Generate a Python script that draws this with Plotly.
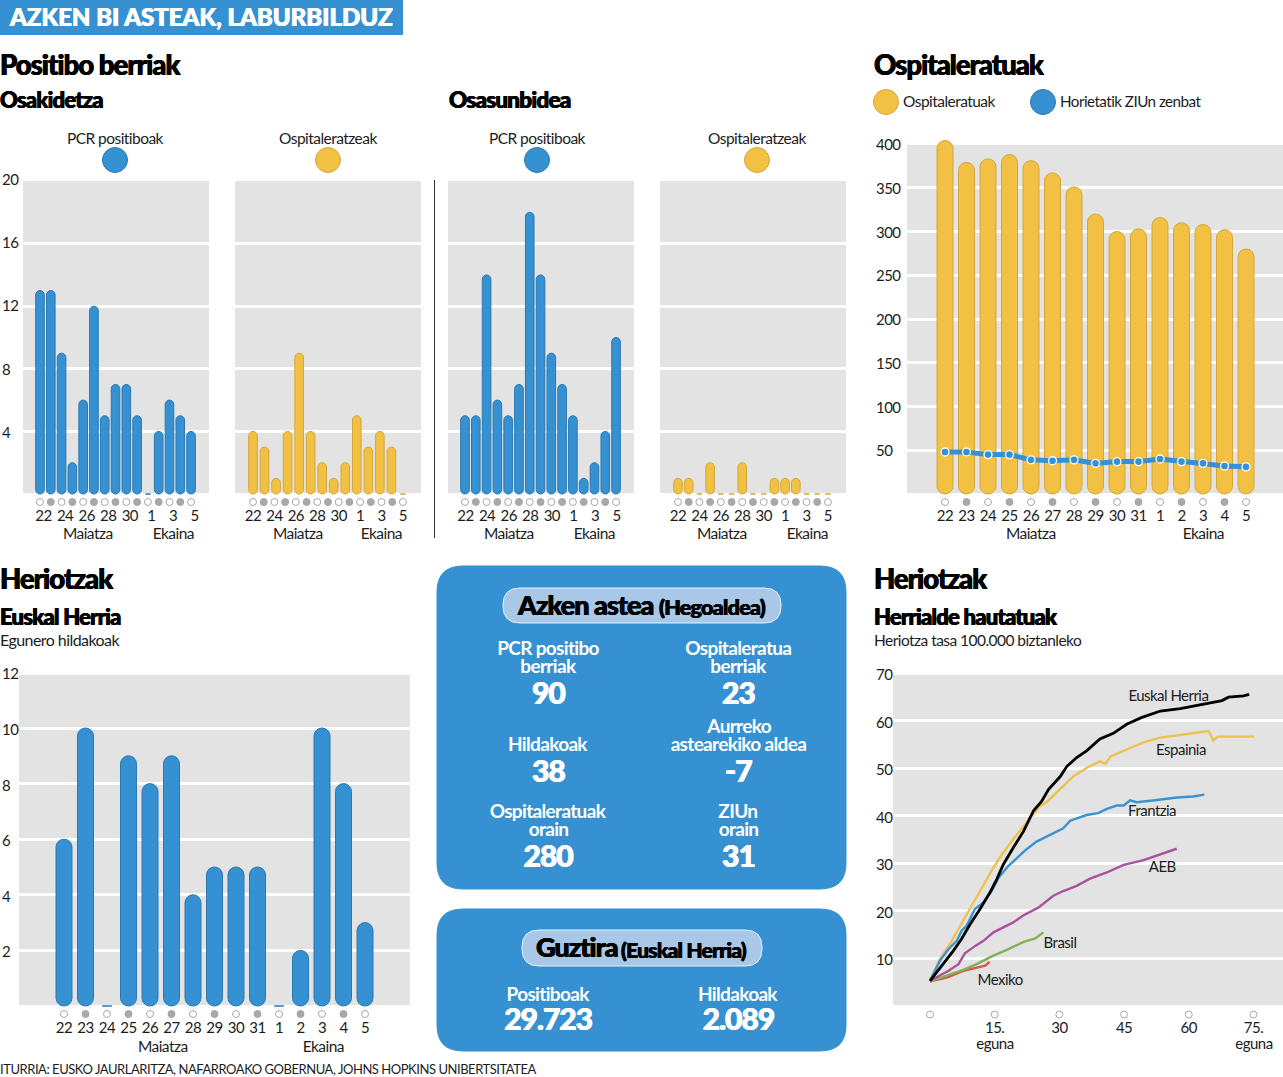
import plotly.graph_objects as go

W, H = 1283, 1077
BLUE = "#3591d1"
BLUE_EDGE = "#2b78b0"
YELLOW = "#f2c043"
YELLOW_EDGE = "#d3a63c"
GRAY = "#e3e3e3"
DOT = "#a8a8a8"
INK = "#1c1c1c"
FONT = "Lato"

egunak = ["22", "23", "24", "25", "26", "27", "28", "29", "30", "31", "1", "2", "3", "4", "5"]

# Positibo berriak
osa_pcr = [13, 13, 9, 2, 6, 12, 5, 7, 7, 5, 0, 4, 6, 5, 4]
osa_ospit = [4, 3, 1, 4, 9, 4, 2, 1, 2, 5, 3, 4, 3, 0]
nafar_pcr = [5, 5, 14, 6, 5, 7, 18, 14, 9, 7, 5, 1, 2, 4, 10]
nafar_ospit = [1, 1, 0, 2, 0, 0, 2, 0, 0, 1, 1, 1, 0, 0, 0]
positibo_ticks = [4, 8, 12, 16, 20]

# Ospitaleratuak
ospitaleratuak = [404, 379, 383, 388, 381, 367, 351, 320, 300, 303, 316, 310, 308, 302, 280]
ziu = [48, 48, 45, 45, 39, 38, 39, 35, 37, 37, 40, 37, 35, 32, 31]
ospit_ticks = [50, 100, 150, 200, 250, 300, 350, 400]

# Heriotzak
hildakoak = [6, 10, 0, 9, 8, 9, 4, 5, 5, 5, 0, 2, 10, 8, 3]
hildako_ticks = [2, 4, 6, 8, 10, 12]

# Herrialde hautatuak
eh_x = [0, 3.1, 5.4, 7.3, 9.3, 11.6, 13.9, 15.5, 17, 19.3, 21.7, 24, 25.9, 27.5, 30.2, 31.7, 34, 36.3, 39.4, 42.5, 45.6, 49, 53.4, 58, 61.9, 67.7, 69.2, 72.7, 74]
eh_y = [5.2, 8.7, 11.5, 14, 17.1, 20.3, 23.8, 26.6, 29.7, 33.2, 36.7, 41, 43, 45.5, 48.2, 50.3, 52.2, 53.6, 56.1, 57.3, 59.2, 60.6, 62, 62.5, 63.2, 64.2, 64.9, 65.2, 65.5]
es_x = [0, 2.3, 4.6, 7, 9.3, 11.6, 14.7, 17, 19.3, 22.4, 25.5, 27, 30.2, 33.3, 36.3, 39.4, 40.7, 41.8, 45.6, 49.5, 53.4, 57.2, 61, 64.6, 65.7, 66.7, 70.4, 75.2]
es_y = [5.2, 9.8, 12.9, 16.8, 20.6, 24.1, 29, 32.2, 35, 38.5, 42, 42.8, 45.5, 48.3, 50, 51.4, 50.9, 52.4, 53.9, 55.4, 56.4, 56.9, 57.4, 57.8, 55.8, 56.6, 56.6, 56.6]
fr_x = [0, 2.3, 4.3, 6.2, 7.3, 8.5, 10.4, 12.4, 14.3, 15.9, 18.2, 20.1, 22.4, 24.7, 27.4, 30.9, 32.5, 36.3, 39, 41, 43.3, 44.9, 46.4, 47.9, 52.2, 57.2, 61, 63.6]
fr_y = [5.2, 9.4, 11.9, 13.6, 15.7, 16.8, 20.3, 21.7, 24.1, 26.9, 29.4, 30.9, 32.9, 34.5, 35.7, 37.3, 38.9, 40.1, 40.5, 41.4, 42.1, 42.1, 43.2, 42.8, 43.2, 43.8, 44, 44.4]
aeb_x = [0, 4.3, 6.6, 8.1, 10.4, 12.4, 14.7, 17, 19.3, 21.7, 25.1, 28.6, 30.9, 34, 37.1, 41, 44.9, 49.5, 52.6, 57.2]
aeb_y = [5.2, 7.3, 8.7, 11, 12.5, 13.6, 15.4, 16.4, 17.5, 19, 20.6, 23.1, 24.1, 25.2, 26.7, 28, 29.6, 30.6, 31.6, 33]
br_x = [0, 3.9, 7.7, 10.8, 14.7, 17.8, 21.7, 24.4, 26.3]
br_y = [5.1, 6.3, 7.5, 8.7, 10.5, 11.7, 13.4, 14.1, 15.4]
mx_x = [0, 3.9, 7.7, 11.2, 12.8, 13.8]
mx_y = [5.1, 5.9, 7.3, 8, 8.4, 9.2]
tasa_ticks = [10, 20, 30, 40, 50, 60, 70]
tasa_x_ticks = [0, 15, 30, 45, 60, 75]
tasa_x_labels = ["", "15.", "30", "45", "60", "75."]

fig = go.Figure()
annots = []
shapes = []
layout = {}


def text(x, y, s, size=15, weight=400, color=INK, anchor="left"):
    font = dict(family=FONT, size=size, weight=weight, color=color)
    if weight == 900:
        # Lato Black comes out too thin, thicken it a little
        font["shadow"] = f"0.45px 0 0 {color}, -0.45px 0 0 {color}"
    annots.append(dict(x=x / W, y=1 - (y - 1) / H, xref="paper", yref="paper", text=s, showarrow=False,
                       xanchor=anchor, align=anchor, yanchor="middle", borderpad=0, borderwidth=0, font=font))


def panel(n, box, first, step, zero, ppu, yticks, xticks, xlabels):
    # plot area is larger than the gray box so the dots and round ends stay in range
    x0, y0, x1, y1 = box
    top, bottom = y0 - 10, y1 + 12
    shapes.append(dict(type="rect", xref="paper", yref="paper", x0=x0 / W, x1=x1 / W, y0=1 - y1 / H, y1=1 - y0 / H,
                       fillcolor=GRAY, line=dict(width=0), layer="below"))
    layout[f"xaxis{n}"] = dict(domain=[x0 / W, x1 / W], range=[(x0 - first) / step, (x1 - first) / step],
                               anchor=f"y{n}", tickvals=xticks, ticktext=xlabels, showgrid=False,
                               zeroline=False, showline=False, ticks="", ticklabelstandoff=0,
                               tickfont=dict(family=FONT, size=15, color=INK))
    layout[f"yaxis{n}"] = dict(domain=[1 - bottom / H, 1 - top / H], range=[(zero - bottom) / ppu, (zero - top) / ppu],
                               anchor=f"x{n}", tickvals=yticks, showticklabels=False, showgrid=True,
                               gridcolor="white", gridwidth=2.5, zeroline=False, showline=False, ticks="")


def dots(n, xs, y, all_open=False):
    cols = ["white" if (i % 2 == 0 or all_open) else DOT for i in range(len(xs))]
    fig.add_trace(go.Scatter(x=xs, y=[y] * len(xs), xaxis=f"x{n}", yaxis=f"y{n}", mode="markers", cliponaxis=False,
                             marker=dict(size=7, color=cols, line=dict(color=DOT, width=1)),
                             showlegend=False, hoverinfo="skip"))


def round_bars(n, vals, color, edge, wdata, radius, bar_step=1.0):
    # a bar with a base gets all four corners rounded
    xs = [i * bar_step for i in range(len(vals)) if vals[i] > 0]
    vv = [v for v in vals if v > 0]
    common = dict(xaxis=f"x{n}", yaxis=f"y{n}", showlegend=False, hoverinfo="skip")
    fig.add_trace(go.Bar(x=xs, y=vv, base=[0] * len(vv), width=wdata,
                         marker=dict(color=color, line=dict(color=edge, width=1), cornerradius=radius), **common))
    zx = [i * bar_step for i in range(len(vals)) if vals[i] == 0]
    fig.add_trace(go.Bar(x=zx, y=[0] * len(zx), width=wdata * 0.6,
                         marker=dict(color=edge, line=dict(color=edge, width=1)), **common))


def circle(x, y, r, color, edge):
    shapes.append(dict(type="circle", xref="paper", yref="paper", x0=(x - r) / W, x1=(x + r) / W,
                       y0=1 - (y + r) / H, y1=1 - (y - r) / H, fillcolor=color, line=dict(color=edge, width=1)))


def card(x0, y0, x1, y1, r, fill, edge=None):
    fx = lambda v: v / W
    fy = lambda v: 1 - v / H
    path = (f"M {fx(x0 + r)} {fy(y0)} L {fx(x1 - r)} {fy(y0)} Q {fx(x1)} {fy(y0)} {fx(x1)} {fy(y0 + r)} "
            f"L {fx(x1)} {fy(y1 - r)} Q {fx(x1)} {fy(y1)} {fx(x1 - r)} {fy(y1)} "
            f"L {fx(x0 + r)} {fy(y1)} Q {fx(x0)} {fy(y1)} {fx(x0)} {fy(y1 - r)} "
            f"L {fx(x0)} {fy(y0 + r)} Q {fx(x0)} {fy(y0)} {fx(x0 + r)} {fy(y0)} Z")
    shapes.append(dict(type="path", xref="paper", yref="paper", path=path, fillcolor=fill, layer="below",
                       line=dict(color=edge or fill, width=1)))


def ylabels(n, ticks, x, drift=0, nudge=0):
    # the printed numbers do not sit exactly on the gridlines in the original
    for t in ticks:
        annots.append(dict(x=x / W, y=t, xref="paper", yref=f"y{n}", text=str(t), showarrow=False,
                           xanchor="left", align="left", yanchor="middle", yshift=(t - 8) * drift + nudge,
                           font=dict(family=FONT, size=15, color=INK)))


# four small panels
days = list(range(len(egunak)))
even = days[::2]
even_labels = egunak[::2]
small = [
    (1, (23, 181, 209, 493), 40, 10.79, osa_pcr, BLUE, BLUE_EDGE, 1.0, 3.5),
    (2, (235, 181, 421, 493), 253, 10.71, osa_ospit, YELLOW, YELLOW_EDGE, 14 / 13, 0),
    (3, (448, 181, 634, 493), 465, 10.79, nafar_pcr, BLUE, BLUE_EDGE, 1.0, 0.5),
    (4, (660, 181, 846, 493), 678, 10.71, nafar_ospit, YELLOW, YELLOW_EDGE, 1.0, 0),
]
for n, box, first, step, vals, col, edge, bstep, shift in small:
    panel(n, box, first, step, 494, 15.65, positibo_ticks[:-1], [d + shift / step for d in even], even_labels)
    round_bars(n, vals, col, edge, 8.6 / step, 4.3, bstep)
    dots(n, days, -8 / 15.65)
ylabels(1, positibo_ticks, 0, drift=0.2)

# hospitalised panel
panel(5, (907, 145, 1283, 493), 945, 21.5, 494, 0.875, ospit_ticks[:-1], days, egunak)
round_bars(5, ospitaleratuak, YELLOW, YELLOW_EDGE, 16 / 21.5, 8)
fig.add_trace(go.Scatter(x=days, y=ziu, xaxis="x5", yaxis="y5", mode="lines+markers",
                         line=dict(color=BLUE, width=5),
                         marker=dict(size=8, color=BLUE, line=dict(color="white", width=1.3)),
                         showlegend=False, hoverinfo="skip"))
dots(5, days, -8 / 0.875)
ylabels(5, ospit_ticks, 874)

# deaths panel
panel(6, (19, 675, 410, 1005), 64, 21.5, 1006, 27.8, hildako_ticks[:-1], days, egunak)
round_bars(6, hildakoak, BLUE, BLUE_EDGE, 16 / 21.5, 8)
dots(6, days, -8 / 27.8)
ylabels(6, hildako_ticks, 0, nudge=-1)

# rate lines
panel(7, (893, 675, 1283, 1005), 930, 4.313, 1005.5, 4.75, tasa_ticks[:-1], tasa_x_ticks, tasa_x_labels)
series = [(mx_x, mx_y, "#d4574a", 2.4), (br_x, br_y, "#80b254", 2.4), (aeb_x, aeb_y, "#a9529e", 2.4),
          (es_x, es_y, "#efc14e", 2.4), (fr_x, fr_y, "#3a93d1", 2.4), (eh_x, eh_y, "#000000", 2.8)]
for xs, ys, col, w in series:
    fig.add_trace(go.Scatter(x=xs, y=ys, xaxis="x7", yaxis="y7", mode="lines", line=dict(color=col, width=w),
                             showlegend=False, hoverinfo="skip"))
dots(7, tasa_x_ticks, -9 / 4.75, all_open=True)
ylabels(7, tasa_ticks, 874, nudge=-1)
for x, y, s in [(1168, 696, "Euskal Herria"), (1181, 750, "Espainia"), (1152, 811, "Frantzia"),
                (1162, 867, "AEB"), (1060, 943, "Brasil"), (1000, 980, "Mexiko"),
                (995, 1044, "eguna"), (1254, 1044, "eguna")]:
    text(x, y, s, 15, anchor="center")

# banner
shapes.append(dict(type="rect", xref="paper", yref="paper", x0=0, x1=403 / W, y0=1 - 35 / H, y1=1,
                   fillcolor=BLUE, line=dict(width=0), layer="below"))
text(9, 17, "AZKEN BI ASTEAK, LABURBILDUZ", 24, 900, "white")

# headings
text(0, 65, "Positibo berriak", 27.5, 900, "#000000")
text(0, 101, "Osakidetza", 22, 900, "#000000")
text(449, 101, "Osasunbidea", 22.5, 900, "#000000")
text(874, 65, "Ospitaleratuak", 27.5, 900, "#000000")
text(0, 579, "Heriotzak", 27.5, 900, "#000000")
text(0, 617, "Euskal Herria", 22, 900, "#000000")
text(0, 641, "Egunero hildakoak", 16)
text(874, 579, "Heriotzak", 27.5, 900, "#000000")
text(874, 617, "Herrialde hautatuak", 22, 900, "#000000")
text(874, 641, "Heriotza tasa 100.000 biztanleko", 15.5)

# series keys
for x, s, col, edge in [(115, "PCR positiboak", BLUE, BLUE_EDGE), (328, "Ospitaleratzeak", YELLOW, YELLOW_EDGE),
                        (537, "PCR positiboak", BLUE, BLUE_EDGE), (757, "Ospitaleratzeak", YELLOW, YELLOW_EDGE)]:
    text(x, 139, s, 15.5, anchor="center")
    circle(x, 160, 12.5, col, edge)
circle(886, 102, 12.5, YELLOW, YELLOW_EDGE)
text(903, 102, "Ospitaleratuak", 15.5)
circle(1043, 102, 12.5, BLUE, BLUE_EDGE)
text(1060, 102, "Horietatik ZIUn zenbat", 15.2)

# months
for cx, cy, s in [(87, 534, "Maiatza"), (173, 534, "Ekaina"), (297, 534, "Maiatza"), (382, 534, "Ekaina"),
                  (508, 534, "Maiatza"), (594, 534, "Ekaina"), (721, 534, "Maiatza"), (807, 534, "Ekaina"),
                  (1030, 534, "Maiatza"), (1203, 534, "Ekaina"), (162, 1047, "Maiatza"), (323, 1047, "Ekaina")]:
    text(cx, cy, s, 15.5, anchor="center")

text(0, 1069.5, "ITURRIA: EUSKO JAURLARITZA, NAFARROAKO GOBERNUA, JOHNS HOPKINS UNIBERTSITATEA", 13)

# separator
shapes.append(dict(type="line", xref="paper", yref="paper", x0=434.5 / W, x1=434.5 / W,
                   y0=1 - 538 / H, y1=1 - 180 / H, line=dict(color="#333333", width=1)))

# cards
card(437, 566, 846, 889, 26, BLUE)
card(437, 909, 846, 1051, 26, BLUE)
card(503, 588, 781, 623, 17, "#a9c8e8", "#e6f0f8")
card(522, 930, 762, 966, 17, "#a9c8e8", "#e6f0f8")
text(517, 605, "Azken astea", 27, 900, "#000000")
text(659, 608, "(Hegoaldea)", 21.5, 900, "#000000")
text(536, 947, "Guztira", 27, 900, "#000000")
text(621, 950, "(Euskal Herria)", 21, 900, "#000000")

for cx, cy, lines, val, off in [(548, 693, ["PCR positibo", "berriak"], "90", 27), (738, 693, ["Ospitaleratua", "berriak"], "23", 27),
                                (548, 771, ["Hildakoak"], "38", 27), (738, 771, ["Aurreko", "astearekiko aldea"], "-7", 27),
                                (548, 856, ["Ospitaleratuak", "orain"], "280", 27), (738, 856, ["ZIUn", "orain"], "31", 27),
                                (548, 1019, ["Positiboak"], "29.723", 25), (738, 1019, ["Hildakoak"], "2.089", 25)]:
    for k, s in enumerate(reversed(lines)):
        text(cx, cy - off - 18 * k, s, 19, 700, "white", "center")
    text(cx, cy, val, 30, 900, "white", "center")

fig.update_layout(width=W, height=H, margin=dict(l=0, r=0, t=0, b=0, pad=0), paper_bgcolor="white",
                  plot_bgcolor="rgba(0,0,0,0)", barmode="overlay", showlegend=False, annotations=annots, shapes=shapes,
                  font=dict(family=FONT, size=15, color=INK), **layout)

post = """
var st = document.createElement('style');
st.textContent = 'body{margin:0} svg text{letter-spacing:-0.035em}';
document.head.appendChild(st);
document.querySelectorAll('svg text').forEach(function(t) {
    if (t.textContent.indexOf('AZKEN') === 0) { t.style.letterSpacing = '0'; }
});
"""
fig.write_html("out.html", post_script=post, config={"displayModeBar": False})
